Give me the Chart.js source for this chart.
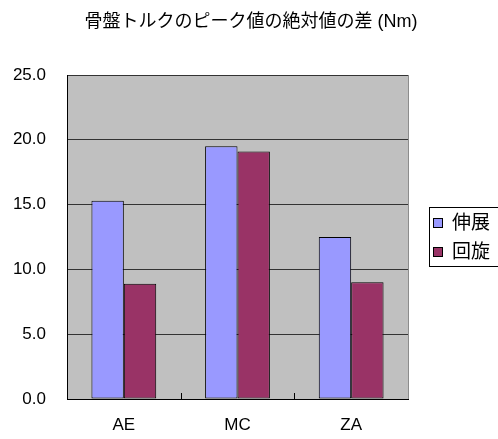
<!DOCTYPE html>
<html>
<head>
<meta charset="utf-8">
<script src="https://cdn.jsdelivr.net/npm/chart.js@4/dist/chart.umd.min.js"></script>
<style>
  html, body { margin: 0; padding: 0; background: #fff; }
  #torqueChart { display: block; }
</style>
</head>
<body>
<canvas id="torqueChart" width="498" height="439"></canvas>
<script>
// 骨盤トルクのピーク値の絶対値の差
const title = '骨盤トルクのピーク値の絶対値の差 (Nm)';
const categories = ['AE', 'MC', 'ZA'];
const seriesNames = ['伸展', '回旋'];
const extension = [15.3, 19.5, 12.5];
const rotation = [8.9, 19.1, 9.0];
const seriesColors = ['#9999FF', '#993366'];

const FONT = "'Liberation Sans', Arial, 'Noto Sans CJK JP', sans-serif";

// グレーの描画領域と枠線、区切りの目盛り
const plotBackground = {
    id: 'plotBackground',
    beforeDraw(chart) {
        const { ctx, chartArea: a } = chart;
        ctx.save();
        ctx.fillStyle = '#C0C0C0';
        ctx.fillRect(a.left, a.top, a.right - a.left, a.bottom - a.top);
        ctx.strokeStyle = '#8c8c8c';
        ctx.lineWidth = 1;
        ctx.beginPath();
        ctx.moveTo(Math.round(a.right) + 0.5, a.top);
        ctx.lineTo(Math.round(a.right) + 0.5, a.bottom);
        ctx.stroke();
        ctx.restore();
    },
    afterDatasetsDraw(chart) {
        const { ctx, chartArea: a } = chart;
        const x = chart.scales.x;
        ctx.save();
        ctx.strokeStyle = '#000';
        ctx.lineWidth = 1;
        ctx.beginPath();
        for (let i = 1; i < categories.length; i++) {
            const px = Math.round((x.getPixelForTick(i - 1) + x.getPixelForTick(i)) / 2) + 0.5;
            ctx.moveTo(px, a.bottom);
            ctx.lineTo(px, a.bottom - 6);
        }
        ctx.stroke();
        ctx.restore();
    }
};

// タイトルと右側の凡例
const titleAndLegend = {
    id: 'titleAndLegend',
    afterDraw(chart) {
        const ctx = chart.ctx;
        ctx.save();
        ctx.fillStyle = '#000';
        ctx.font = '18px ' + FONT;
        ctx.textAlign = 'center';
        ctx.textBaseline = 'middle';
        ctx.fillText(title, 251, 22);

        ctx.strokeStyle = '#000';
        ctx.lineWidth = 1;
        ctx.strokeRect(429.5, 207.5, 80, 59);
        ctx.font = '19px ' + FONT;
        ctx.textAlign = 'left';
        chart.data.datasets.forEach((ds, i) => {
            const cy = 223 + i * 29;
            ctx.fillStyle = ds.backgroundColor;
            ctx.fillRect(433, cy - 5, 10, 10);
            ctx.strokeRect(433.5, cy - 4.5, 9, 9);
            ctx.fillStyle = '#000';
            ctx.fillText(ds.label, 452, cy + 1);
        });
        ctx.restore();
    }
};

new Chart(document.getElementById('torqueChart'), {
    type: 'bar',
    data: {
        labels: categories,
        datasets: [
            { label: seriesNames[0], data: extension, backgroundColor: seriesColors[0] },
            { label: seriesNames[1], data: rotation, backgroundColor: seriesColors[1] }
        ]
    },
    plugins: [plotBackground, titleAndLegend],
    options: {
        responsive: false,
        animation: false,
        devicePixelRatio: 1,
        layout: { padding: { top: 75, right: 90, left: 0, bottom: 0 } },
        datasets: {
            bar: {
                borderColor: '#000',
                borderWidth: 1,
                borderSkipped: false,
                barPercentage: 1,
                categoryPercentage: 0.57
            }
        },
        plugins: {
            legend: { display: false },
            title: { display: false },
            tooltip: { enabled: false }
        },
        scales: {
            x: {
                grid: { display: false },
                border: { color: '#000', width: 1 },
                ticks: {
                    color: '#000',
                    font: { family: FONT, size: 17 },
                    padding: 8
                },
                afterFit(scale) { scale.height = 40; }
            },
            y: {
                min: 0,
                max: 25,
                grid: { color: '#333', drawTicks: false },
                border: { color: '#000', width: 1 },
                ticks: {
                    stepSize: 5,
                    color: '#000',
                    font: { family: FONT, size: 17 },
                    padding: 21,
                    callback: v => v.toFixed(1)
                },
                afterFit(scale) { scale.width = 67; }
            }
        }
    }
});
</script>
</body>
</html>
